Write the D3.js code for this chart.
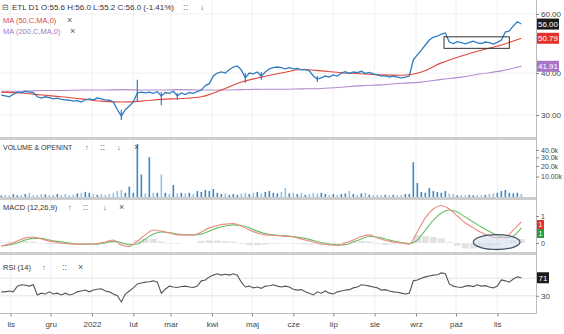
<!DOCTYPE html>
<html>
<head>
<meta charset="utf-8">
<title>ETL D1</title>
<script src="https://cdn.jsdelivr.net/npm/d3@7"></script>
<style>
    body { margin: 0; background: #fff; }
    svg text { font-family: "Liberation Sans", Arial, sans-serif; }
</style>
</head>
<body>
<svg id="chart" width="564" height="334"></svg>
<script>
// values
var start = new Date(2021, 9, 25);   // first bar, then one sample every 3 days

var closes = [34.4, 34.2, 34.0, 34.6, 35.1, 35.0, 35.3, 35.1, 35.0, 34.0,
    33.7, 34.0, 33.8, 33.5, 33.7, 33.4, 33.3, 33.2, 33.0, 33.1,
    32.8, 33.3, 33.5, 33.3, 33.7, 33.5, 33.3, 33.2, 32.8, 31.1,
    29.8, 31.1, 31.9, 32.8, 34.9, 35.1, 34.9, 35.1, 34.8, 35.2,
    34.2, 35.0, 34.8, 35.3, 34.2, 34.9, 34.5, 35.0, 34.8, 35.2,
    35.6, 36.7, 37.2, 39.2, 40.0, 40.3, 40.0, 40.9, 41.7, 42.0,
    40.9, 38.7, 40.0, 39.8, 40.3, 39.2, 40.3, 41.2, 41.5, 41.7,
    41.5, 41.2, 41.5, 41.2, 41.3, 40.9, 41.0, 40.6, 39.2, 38.4,
    38.7, 39.2, 38.9, 39.5, 39.2, 40.0, 40.4, 39.9, 40.3, 40.1,
    40.5, 39.9, 40.2, 39.8, 39.5, 39.2, 39.3, 38.9, 39.2, 38.9,
    38.7, 38.9, 39.2, 43.8, 45.3, 46.8, 48.5, 50.2, 51.2, 51.5,
    52.3, 52.7, 49.5, 49.0, 49.6, 49.3, 48.9, 49.4, 49.8, 49.2,
    49.0, 49.5, 49.3, 48.8, 49.4, 50.2, 53.0, 53.4, 55.3, 56.9,
    56.0];

// thousands of shares
var volumes = [0.13, 0.24, 0.13, 0.36, 0.16, 0.24, 0.41, 0.71, 0.16, 0.24,
    0.41, 0.32, 0.16, 0.24, 0.41, 0.24, 0.41, 0.16, 0.24, 0.55,
    0.71, 0.96, 0.71, 0.41, 0.24, 0.41, 0.24, 0.41, 0.71, 1.29,
    1.67, 0.71, 3.29, 0.71, 48.8, 11.7, 0.55, 30.4, 0.71, 0.71,
    11.7, 0.71, 0.41, 4.11, 0.55, 0.71, 0.55, 0.71, 0.41, 1.29,
    0.96, 1.67, 1.29, 2.09, 0.71, 0.41, 0.55, 0.24, 0.41, 0.24,
    0.55, 0.71, 0.41, 0.71, 0.96, 0.55, 0.96, 1.29, 0.71, 0.55,
    0.96, 2.54, 0.55, 0.71, 0.41, 0.71, 0.24, 0.41, 0.71, 0.55,
    0.71, 0.41, 0.24, 0.41, 0.24, 0.41, 0.55, 1.29, 0.41, 0.24,
    0.55, 0.71, 0.24, 0.16, 0.24, 0.16, 0.24, 0.16, 0.24, 0.16,
    0.24, 0.41, 0.41, 24.2, 5.3, 0.96, 0.71, 2.54, 1.29, 0.96,
    0.71, 1.29, 0.55, 0.41, 0.16, 0.24, 0.16, 0.24, 0.16, 0.24,
    0.16, 0.24, 0.41, 0.55, 0.71, 1.29, 1.67, 0.71, 0.55, 0.71,
    0.41];

var rsi = [39, 39, 41, 39, 52, 55, 54, 52, 55, 32,
    36, 34, 39, 34, 36, 32, 36, 32, 34, 39,
    41, 43, 39, 43, 45, 46, 41, 39, 34, 30,
    16, 34, 41, 48, 57, 59, 61, 62, 64, 61,
    36, 45, 52, 50, 49, 51, 52, 50, 49, 52,
    64, 66, 73, 77, 80, 77, 79, 77, 80, 77,
    61, 50, 52, 48, 50, 47, 52, 53, 55, 52,
    50, 52, 50, 45, 43, 44, 39, 36, 32, 39,
    36, 41, 36, 34, 39, 41, 43, 44, 48, 50,
    55, 54, 52, 50, 48, 43, 44, 41, 39, 38,
    36, 34, 36, 64, 66, 70, 73, 75, 77, 78,
    82, 80, 57, 52, 50, 49, 52, 53, 51, 55,
    52, 53, 50, 48, 52, 66, 64, 61, 68, 73,
    71];

// sampled every 15 days
var ma50 = [35.1, 34.9, 34.4, 34.0, 33.5, 33.0, 32.8, 33.0, 33.4, 33.6,
    34.0, 35.6, 37.6, 38.9, 40.0, 41.0, 40.6, 40.1, 39.8, 39.5,
    39.4, 40.3, 42.9, 45.0, 46.8, 48.5, 50.79];
var ma200 = [35.3, 35.3, 35.5, 35.5, 35.6, 35.6, 35.7, 35.6, 35.6, 35.7,
    35.6, 35.6, 35.7, 35.8, 35.8, 35.9, 36.0, 36.3, 36.7, 36.9,
    37.3, 37.6, 38.3, 38.9, 39.8, 40.6, 41.91];

// sampled every 6 days
var macd = [-0.11, -0.04, 0.07, 0.19, 0.22, 0.15, 0.07, 0.02, -0.02, -0.04,
    -0.04, -0.04, -0.02, 0.04, 0.11, -0.07, -0.13, 0.07, 0.30, 0.48,
    0.44, 0.37, 0.30, 0.30, 0.30, 0.41, 0.56, 0.65, 0.70, 0.72,
    0.63, 0.48, 0.37, 0.30, 0.28, 0.26, 0.24, 0.19, 0.11, 0.04,
    -0.04, -0.07, -0.09, 0.00, 0.11, 0.24, 0.30, 0.19, 0.09, 0.04,
    0.00, -0.04, 0.41, 0.93, 1.26, 1.39, 1.26, 1.00, 0.74, 0.56,
    0.39, 0.26, 0.19, 0.22, 0.48, 0.78];
var signal = [-0.11, -0.07, 0, 0.11, 0.17, 0.17, 0.11, 0.06, 0.02, -0.02,
    -0.04, -0.04, -0.04, 0, 0.06, 0.02, -0.07, -0.04, 0.15, 0.33,
    0.41, 0.39, 0.33, 0.30, 0.30, 0.33, 0.44, 0.56, 0.63, 0.67,
    0.65, 0.56, 0.44, 0.35, 0.30, 0.28, 0.26, 0.22, 0.17, 0.09,
    0.02, -0.04, -0.07, -0.06, 0.04, 0.15, 0.24, 0.22, 0.15, 0.07,
    0.02, -0.02, 0.11, 0.48, 0.85, 1.11, 1.22, 1.15, 0.96, 0.78,
    0.59, 0.43, 0.28, 0.19, 0.26, 0.56];
var hist = [0.02, 0.04, 0.06, 0.07, 0.05, -0.02, -0.04, -0.03, -0.02, 0,
    0, 0, 0.01, 0.03, 0.05, -0.08, -0.07, 0.1, 0.15, 0.16,
    0.06, -0.02, -0.03, 0, 0, 0.08, 0.1, 0.09, 0.07, 0.05,
    -0.03, -0.08, -0.08, -0.06, -0.03, -0.02, -0.02, -0.03, -0.05, -0.05,
    -0.06, -0.04, -0.03, 0.04, 0.07, 0.08, 0.06, -0.03, -0.06, -0.05,
    -0.03, -0.02, 0.3, 0.25, 0.22, 0.17, 0.04, -0.1, -0.2, -0.2,
    -0.16, -0.12, -0.08, 0.01, 0.1, 0.15];

// long shadows worth showing
var wickAt = [30, 34, 40, 44, 61, 65, 79];
var wickHigh = [31.1, 38.2, 35.1, 34.9, 40.0, 40.3, 39.2];
var wickLow = [29.0, 32.8, 32.1, 33.3, 37.4, 38.2, 37.6];

var monthStarts = [new Date(2021, 10, 1), new Date(2021, 11, 1), new Date(2022, 0, 1),
    new Date(2022, 1, 1), new Date(2022, 2, 1), new Date(2022, 3, 1), new Date(2022, 4, 1),
    new Date(2022, 5, 1), new Date(2022, 6, 1), new Date(2022, 7, 1), new Date(2022, 8, 1),
    new Date(2022, 9, 1), new Date(2022, 10, 1)];
var monthLabels = ['lis', 'gru', '2022', 'lut', 'mar', 'kwi', 'maj', 'cze', 'lip', 'sie', 'wrz', 'paź', 'lis'];

var priceTicks = [30, 40, 60];
var volTicks = [10, 20, 30, 40];
var volTickLabels = ['10.00k', '20.0k', '30.0k', '40.0k'];
var ohlc = [55.6, 56.0, 55.2, 56.0];
var change = -1.41;

// drawn annotations
var boxDates = [new Date(2022, 8, 22), new Date(2022, 10, 10)];
var boxPrices = [47.4, 51.3];
var ellipseDates = [new Date(2022, 9, 14), new Date(2022, 10, 18)];
var ellipseValues = [-0.24, 0.31];


var svg = d3.select('#chart');
var W = 536;
var font = '"Liberation Sans", Arial, sans-serif';

var priceDates = closes.map(function (d, i) { return d3.timeDay.offset(start, 3 * i); });
var maDates = ma50.map(function (d, i) { return d3.timeDay.offset(start, 15 * i); });
var macdDates = macd.map(function (d, i) { return d3.timeDay.offset(start, 6 * i); });

var x = d3.scaleTime().domain([new Date(2021, 9, 24), new Date(2022, 10, 30)]).range([0, W]);
var yP = d3.scaleLog().domain([30, 60]).range([115, 14]);
var yV = d3.scalePow().exponent(0.6).domain([0, 40]).range([197, 150]);
var yM = d3.scaleLinear().domain([0, 1]).range([243, 216]);
var yR = d3.scaleLinear().domain([0, 100]).range([309, 265]);

var panes = [
    {id: 'p', top: 0, bottom: 137},
    {id: 'v', top: 140, bottom: 197},
    {id: 'm', top: 200, bottom: 252},
    {id: 'r', top: 255, bottom: 313}
];

var defs = svg.append('defs');
panes.forEach(function (p) {
    defs.append('clipPath').attr('id', 'clip-' + p.id)
        .append('rect').attr('x', 0).attr('y', p.top).attr('width', W).attr('height', p.bottom - p.top);
});

// grid
panes.forEach(function (p) {
    svg.append('g').selectAll('line').data(monthStarts).enter().append('line')
        .attr('x1', function (d) { return x(d); }).attr('x2', function (d) { return x(d); })
        .attr('y1', p.top).attr('y2', p.bottom)
        .attr('stroke', '#f0f0f0').attr('stroke-width', 1);
});
svg.append('g').selectAll('line').data(priceTicks).enter().append('line')
    .attr('x1', 0).attr('x2', W)
    .attr('y1', function (d) { return yP(d); }).attr('y2', function (d) { return yP(d); })
    .attr('stroke', '#f0f0f0');
svg.append('g').selectAll('line').data([30, 70]).enter().append('line')
    .attr('x1', 0).attr('x2', W)
    .attr('y1', function (d) { return yR(d); }).attr('y2', function (d) { return yR(d); })
    .attr('stroke', '#e4e4e4');

// ---- price pane
var gp = svg.append('g').attr('clip-path', 'url(#clip-p)');

gp.append('path')
    .datum(ma200)
    .attr('fill', 'none').attr('stroke', '#b28ccf').attr('stroke-width', 1.1)
    .attr('d', d3.line().curve(d3.curveMonotoneX)
        .x(function (d, i) { return x(maDates[i]); }).y(function (d) { return yP(d); }));

gp.append('path')
    .datum(ma50)
    .attr('fill', 'none').attr('stroke', '#e0483e').attr('stroke-width', 1.1)
    .attr('d', d3.line().curve(d3.curveMonotoneX)
        .x(function (d, i) { return x(maDates[i]); }).y(function (d) { return yP(d); }));

gp.append('g').selectAll('line').data(wickAt).enter().append('line')
    .attr('x1', function (d) { return x(priceDates[d]); })
    .attr('x2', function (d) { return x(priceDates[d]); })
    .attr('y1', function (d, i) { return yP(wickHigh[i]); })
    .attr('y2', function (d, i) { return yP(wickLow[i]); })
    .attr('stroke', '#2f7cc0').attr('stroke-width', 1.2);

gp.append('path')
    .datum(closes)
    .attr('fill', 'none').attr('stroke', '#2f7cc0').attr('stroke-width', 1.3)
    .attr('d', d3.line().x(function (d, i) { return x(priceDates[i]); }).y(function (d) { return yP(d); }));

gp.append('rect')
    .attr('x', x(boxDates[0])).attr('y', yP(boxPrices[1]))
    .attr('width', x(boxDates[1]) - x(boxDates[0]))
    .attr('height', yP(boxPrices[0]) - yP(boxPrices[1]))
    .attr('fill', 'none').attr('stroke', '#333').attr('stroke-width', 1);

// ---- volume pane
svg.append('g').attr('clip-path', 'url(#clip-v)')
    .selectAll('rect').data(volumes).enter().append('rect')
    .attr('x', function (d, i) { return x(priceDates[i]) - 0.8; })
    .attr('width', 1.6)
    .attr('y', function (d) { return yV(d); })
    .attr('height', function (d) { return yV(0) - yV(d); })
    .attr('fill', function (d, i) {
        return (i > 0 && closes[i] < closes[i - 1]) ? '#8fc3e8' : '#3b88c8';
    });

// ---- macd pane
var gm = svg.append('g').attr('clip-path', 'url(#clip-m)');
gm.selectAll('rect').data(hist).enter().append('rect')
    .attr('x', function (d, i) { return x(macdDates[i]) - 3.5; })
    .attr('width', 7)
    .attr('y', function (d) { return Math.min(yM(d), yM(0)); })
    .attr('height', function (d) { return Math.abs(yM(d) - yM(0)); })
    .attr('fill', '#e2e2e2');

var mline = d3.line().curve(d3.curveMonotoneX)
    .x(function (d, i) { return x(macdDates[i]); }).y(function (d) { return yM(d); });
gm.append('path').datum(signal).attr('fill', 'none').attr('stroke', '#6cbf6a').attr('stroke-width', 1.1).attr('d', mline);
gm.append('path').datum(macd).attr('fill', 'none').attr('stroke', '#ec8a80').attr('stroke-width', 1.1).attr('d', mline);

var ex0 = x(ellipseDates[0]), ex1 = x(ellipseDates[1]);
var ey0 = yM(ellipseValues[1]), ey1 = yM(ellipseValues[0]);
gm.append('ellipse')
    .attr('cx', (ex0 + ex1) / 2).attr('cy', (ey0 + ey1) / 2)
    .attr('rx', (ex1 - ex0) / 2).attr('ry', (ey1 - ey0) / 2)
    .attr('fill', '#cfdcef').attr('fill-opacity', 0.55)
    .attr('stroke', '#4a5566').attr('stroke-width', 1.3);

// ---- rsi pane
svg.append('g').attr('clip-path', 'url(#clip-r)')
    .append('path').datum(rsi)
    .attr('fill', 'none').attr('stroke', '#555').attr('stroke-width', 1.1)
    .attr('d', d3.line().x(function (d, i) { return x(priceDates[i]); }).y(function (d) { return yR(d); }));

// ---- frame
[137, 197, 252].forEach(function (y) {
    svg.append('rect').attr('x', 0).attr('y', y).attr('width', W).attr('height', 3).attr('fill', '#cdcdcd');
});
svg.append('line').attr('x1', W + 0.5).attr('x2', W + 0.5).attr('y1', 0).attr('y2', 313.5).attr('stroke', '#bdbdbd');
svg.append('line').attr('x1', 0).attr('x2', W + 0.5).attr('y1', 313.5).attr('y2', 313.5).attr('stroke', '#bdbdbd');

// ---- axes
function styleAxis(size) {
    return function (g) {
        g.select('.domain').remove();
        g.selectAll('.tick line').attr('stroke', '#888');
        g.selectAll('.tick text').attr('fill', '#444').style('font-size', size + 'px').style('font-family', font);
    };
}

svg.append('g').attr('transform', 'translate(' + W + ',0)')
    .call(d3.axisRight(yP).tickValues(priceTicks).tickFormat(d3.format('.2f')).tickSize(3).tickPadding(2))
    .call(styleAxis(8));
svg.append('g').attr('transform', 'translate(' + W + ',0)')
    .call(d3.axisRight(yV).tickValues(volTicks).tickFormat(function (d, i) { return volTickLabels[i]; }).tickSize(3).tickPadding(2))
    .call(styleAxis(7));
svg.append('g').attr('transform', 'translate(' + W + ',0)')
    .call(d3.axisRight(yM).tickValues([0, 1]).tickFormat(d3.format('d')).tickSize(3).tickPadding(2))
    .call(styleAxis(7));
svg.append('g').attr('transform', 'translate(' + W + ',0)')
    .call(d3.axisRight(yR).tickValues([30]).tickFormat(d3.format('d')).tickSize(3).tickPadding(2))
    .call(styleAxis(8));
svg.append('g').attr('transform', 'translate(0,313.5)')
    .call(d3.axisBottom(x).tickValues(monthStarts).tickFormat(function (d, i) { return monthLabels[i]; }).tickSize(3).tickPadding(5))
    .call(styleAxis(8));

// last value tags
function tag(y, text, fill, w, h, fs) {
    w = w || 22; h = h || 11; fs = fs || 8;
    var g = svg.append('g').attr('transform', 'translate(' + (W + 1) + ',' + y + ')');
    g.append('rect').attr('x', 0).attr('y', -h / 2).attr('width', w).attr('height', h).attr('fill', fill);
    g.append('text').attr('x', w / 2).attr('y', fs * 0.36).attr('text-anchor', 'middle')
        .attr('fill', '#fff').style('font-size', fs + 'px').text(text);
}
var fmt2 = d3.format('.2f');
tag(yP(ma200[ma200.length - 1]), fmt2(ma200[ma200.length - 1]), '#a874c9');
tag(yP(ma50[ma50.length - 1]), fmt2(ma50[ma50.length - 1]), '#e3322b');
tag(yP(closes[closes.length - 1]), fmt2(closes[closes.length - 1]), '#1b1b1b');

// keep the macd tags clear of the "1" tick and of each other
var macdY = Math.max(yM(macd[macd.length - 1]), yM(1) + 8.5);
var sigY = Math.max(yM(signal[signal.length - 1]), macdY + 9);
tag(macdY, d3.format('.0f')(macd[macd.length - 1]), '#e3322b', 7, 9, 7);
tag(sigY, d3.format('.0f')(signal[signal.length - 1]), '#2e9a3a', 7, 9, 7);
tag(yR(rsi[rsi.length - 1]), d3.format('d')(rsi[rsi.length - 1]), '#1b1b1b', 12);

// ---- titles
function label(xp, yp, text, fill, size) {
    return svg.append('text').attr('x', xp).attr('y', yp).attr('fill', fill || '#333')
        .style('font-size', (size || 7.5) + 'px').text(text);
}
label(2, 10, '⊟', '#555', 8);
label(12, 10, 'ETL D1 O:' + ohlc[0] + ' H:' + d3.format('.1f')(ohlc[1]) + ' L:' + ohlc[2] +
    ' C:' + d3.format('.1f')(ohlc[3]) + ' (' + change + '%)', '#333', 8);
label(183, 10, '::', '#555', 9);
label(200, 10, '↓', '#555', 8);
label(3, 23, 'MA (50,C,MA,0)', '#e0483e');
label(67, 23, '×', '#555', 9);
label(3, 34, 'MA (200,C,MA,0)', '#a874c9');
label(70, 34, '×', '#555', 9);

label(3, 150, 'VOLUME & OPENINT', '#333', 7);
label(85, 150, '↑', '#555');
label(100, 150, '::', '#555', 9);
label(117, 150, '↓', '#555');
label(134, 150, '×', '#555', 9);

label(3, 210, 'MACD (12,26,9)', '#333');
label(68, 210, '↑', '#555');
label(83, 210, '::', '#555', 9);
label(103, 210, '↓', '#555');
label(119, 210, '×', '#555', 9);

label(3, 270, 'RSI (14)', '#333');
label(42, 270, '↑', '#555');
label(62, 270, '::', '#555', 9);
label(78, 270, '×', '#555', 9);
</script>
</body>
</html>
